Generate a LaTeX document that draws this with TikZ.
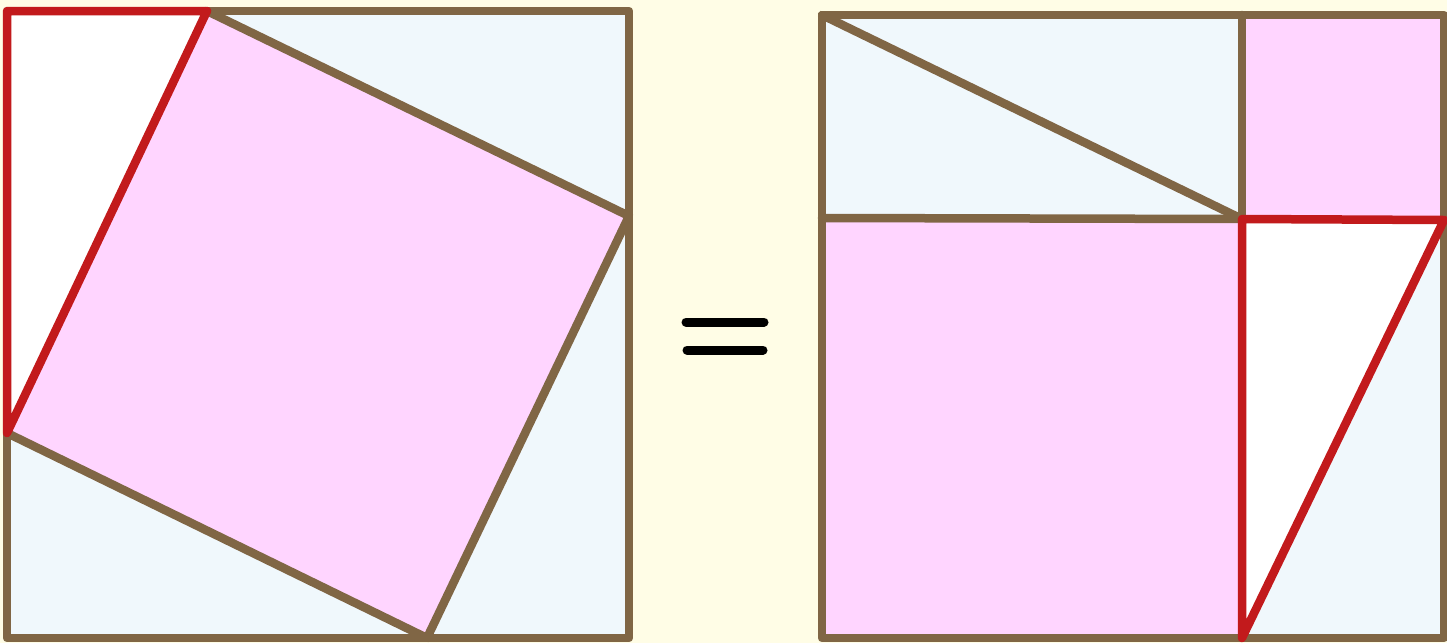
\documentclass[tikz,border=0pt]{standalone}
\begin{document}
\begin{tikzpicture}[x=1pt,y=-1pt,
  edge/.style={draw=brownc,line width=8.5pt,line join=round,line cap=round},
  rededge/.style={draw=redc,line width=8.5pt,line join=round,line cap=round},
  eqline/.style={draw=black,line width=9pt,line cap=round}]
\definecolor{bgc}{HTML}{FFFDE6}
\definecolor{bluec}{HTML}{F0F8FC}
\definecolor{pinkc}{HTML}{FFD5FF}
\definecolor{brownc}{HTML}{806645}
\definecolor{redc}{HTML}{C21A1C}
\fill[bgc] (0,0) rectangle (1447,643);
\useasboundingbox (0,0) rectangle (1447,643);
% left square
\coordinate (A1) at (7,11); \coordinate (A2) at (629,11);
\coordinate (A3) at (629,638); \coordinate (A4) at (7,638);
\coordinate (P1) at (207,11); \coordinate (P2) at (629,216);
\coordinate (P3) at (427,638); \coordinate (P4) at (7,433);
\fill[bluec] (A1) rectangle (A3);
\fill[pinkc] (P1) -- (P2) -- (P3) -- (P4) -- cycle;
\fill[white] (A1) -- (P1) -- (P4) -- cycle;
\draw[edge] (P1) -- (P2) -- (P3) -- (P4);
\draw[edge] (P1) -- (A2) -- (A3) -- (A4) -- (P4);
\draw[rededge] (A1) -- (P1) -- (P4) -- cycle;
% equals sign
\coordinate (E1) at (686,322); \coordinate (E2) at (764,322);
\coordinate (E3) at (687,350); \coordinate (E4) at (763,350);
\draw[eqline] (E1) -- (E2);
\draw[eqline] (E3) -- (E4);
% right square
\coordinate (B1) at (822,15); \coordinate (B2) at (1444,15);
\coordinate (B3) at (1444,638); \coordinate (B4) at (822,638);
\coordinate (T) at (1242,15); \coordinate (M) at (1242,219);
\coordinate (L) at (822,218); \coordinate (R) at (1444,220);
\coordinate (Bm) at (1242,638);
\fill[bluec] (B1) rectangle (B3);
\fill[pinkc] (T) rectangle (R);
\fill[pinkc] (L) rectangle (Bm);
\fill[white] (M) -- (R) -- (Bm) -- cycle;
\draw[edge] (B1) -- (B2) -- (B3) -- (B4) -- cycle;
\draw[edge] (T) -- (M);
\draw[edge] (L) -- (M);
\draw[edge] (B1) -- (M);
\draw[rededge] (M) -- (R) -- (Bm) -- cycle;
\end{tikzpicture}
\end{document}
